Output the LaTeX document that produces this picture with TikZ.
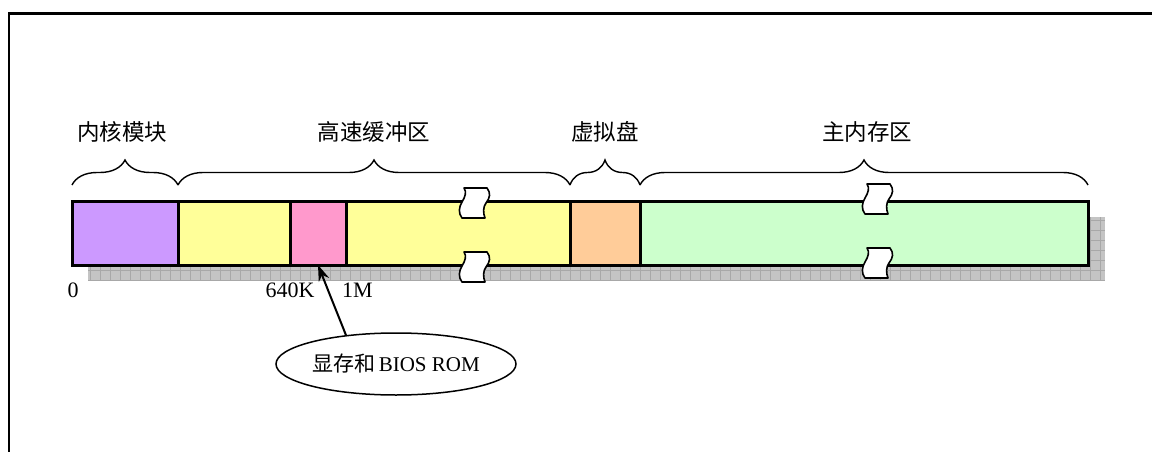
\documentclass[tikz,border=0pt]{standalone}
\usepackage{fontspec}
\setmainfont{Liberation Serif}
\newfontfamily\cjk{Noto Sans CJK SC}
\usetikzlibrary{decorations.pathreplacing,arrows.meta,shapes.geometric}
\definecolor{cPurple}{HTML}{CC99FF}
\definecolor{cYellow}{HTML}{FFFF99}
\definecolor{cPink}{HTML}{FF99CC}
\definecolor{cOrange}{HTML}{FFCC99}
\definecolor{cGreen}{HTML}{CCFFCC}
\definecolor{cShadow}{HTML}{C4C4C4}
\definecolor{cGrid}{HTML}{A8A8A8}
\begin{document}
\begin{tikzpicture}[x=1pt,y=-1pt,
  seg/.style={draw=black,line width=3pt,inner sep=0pt,outer sep=0pt,minimum height=64pt},
  brkstyle/.style={draw=black,fill=white,line width=1.6pt,line join=round},
  bracestyle/.style={decorate,decoration={brace,amplitude=25pt},line width=1.4pt},
  lbl/.style={font=\fontsize{22.5}{26}\selectfont\cjk,inner sep=0pt},
  num/.style={font=\fontsize{22}{26}\selectfont,inner sep=0pt},
  frameline/.style={line width=2.5pt},
  arr/.style={line width=2pt,-{Stealth[length=16pt,width=11pt]}}
]
\useasboundingbox (0,0) rectangle (1152,452);
% frame
\draw[frameline] (9,452) -- (9,13.5) -- (1152,13.5);
% shadow
\fill[cShadow] (88,217) rectangle (1105,280);
\draw[cGrid,line width=0.6pt] (88,217) grid[step=10pt] (1105,280);
% segments
\node[seg,fill=cPurple,minimum width=106pt] (kern) at (125,233) {};
\node[seg,fill=cYellow,minimum width=112pt] (buf1) at (234,233) {};
\node[seg,fill=cPink,minimum width=56pt] (vram) at (318,233) {};
\node[seg,fill=cYellow,minimum width=224pt] (buf2) at (458,233) {};
\node[seg,fill=cOrange,minimum width=70pt] (rdisk) at (605,233) {};
\node[seg,fill=cGreen,minimum width=448pt] (mainm) at (864,233) {};
% break symbols
\foreach \p in {(474,203),(474,267),(877,199),(877,263)}{
  \draw[brkstyle,shift={\p}] (-10,-15) -- (13,-15)
    .. controls (17,-10) and (16,-5) .. (12,0)
    .. controls (9,4) and (9,10) .. (11,15)
    -- (-12,15)
    .. controls (-16,10) and (-15,4) .. (-12,-1)
    .. controls (-9,-6) and (-7,-11) .. (-10,-15) -- cycle;
}
% braces
\draw[bracestyle] (72,185) coordinate (b1a) -- (178,185) coordinate (b1b);
\draw[bracestyle] (178,185) coordinate (b2a) -- (570,185) coordinate (b2b);
\draw[bracestyle] (570,185) coordinate (b3a) -- (640,185) coordinate (b3b);
\draw[bracestyle] (640,185) coordinate (b4a) -- (1088,185) coordinate (b4b);
% labels
\node[lbl] (l1) at (122,132) {内核模块};
\node[lbl] (l2) at (374,132) {高速缓冲区};
\node[lbl] (l3) at (605,132) {虚拟盘};
\node[lbl] (l4) at (867,132) {主内存区};
\node[num] (n0) at (73,290) {0};
\node[num] (n640) at (290,290) {640K};
\node[num,anchor=west] (n1m) at (342,290) {1M};
% ellipse
\node[draw,ellipse,line width=1.5pt,minimum width=240pt,minimum height=62pt,inner sep=0pt,
  font=\fontsize{21}{24}\selectfont] (ell) at (396,364) {{\cjk 显存和}\,BIOS ROM};
\draw[arr] (ell.150) -- (vram.south);
\end{tikzpicture}
\end{document}
